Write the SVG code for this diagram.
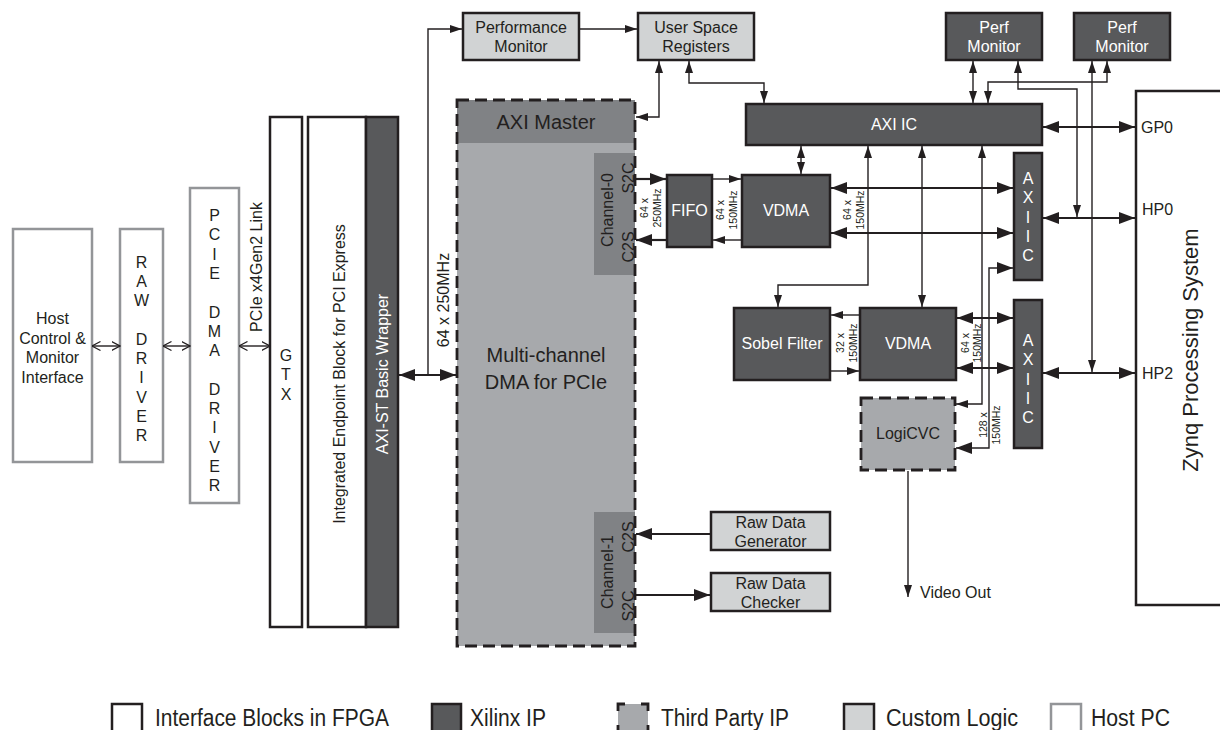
<svg xmlns="http://www.w3.org/2000/svg" width="1220" height="730" viewBox="0 0 1220 730">
<defs>
<style>
text{font-family:"Liberation Sans",Arial,Helvetica,sans-serif;fill:#231f20}
.m{text-anchor:middle}
.f16{font-size:16px}
.f20{font-size:20px}
.sm{font-size:10.5px}
.w{fill:#fff}
.host{fill:#fff;stroke:#939598;stroke-width:2.5}
.ifc{fill:#fff;stroke:#231f20;stroke-width:2.5}
.xil{fill:#58595b;stroke:#231f20;stroke-width:2.5}
.cus{fill:#d1d3d4;stroke:#231f20;stroke-width:2.5}
.tpf{fill:#a7a9ac}
.tpo{fill:none;stroke:#231f20;stroke-width:2.8;stroke-dasharray:12 6}
.sub{fill:#808285}
.c{fill:none;stroke:#231f20}
.k{stroke-width:2.2}
.n{stroke-width:1.4}
.leg{font-size:23px}
</style>
<marker id="ab" viewBox="0 0 16 12" refX="16" refY="6" markerWidth="16" markerHeight="12" markerUnits="userSpaceOnUse" orient="auto-start-reverse"><path d="M0,0 L16,6 L0,12 z" fill="#231f20"/></marker>
<marker id="as" viewBox="0 0 12 8" refX="12" refY="4" markerWidth="12" markerHeight="8" markerUnits="userSpaceOnUse" orient="auto-start-reverse"><path d="M0,0 L12,4 L0,8 z" fill="#231f20"/></marker>
<marker id="ao" viewBox="0 0 9 10" refX="8.5" refY="5" markerWidth="9" markerHeight="10" markerUnits="userSpaceOnUse" orient="auto-start-reverse"><path d="M0,0.5 L8.5,5 L0,9.5" fill="none" stroke="#231f20" stroke-width="1.2"/></marker>
</defs>
<rect width="1220" height="730" fill="#fff"/>

<g id="host">
<rect class="host" x="13" y="229" width="79" height="233"/>
<text class="f16 m"><tspan x="52.5" y="324">Host</tspan><tspan x="52.5" y="343.5">Control &amp;</tspan><tspan x="52.5" y="363">Monitor</tspan><tspan x="52.5" y="382.5">Interface</tspan></text>
</g>
<g id="raw-driver">
<rect class="host" x="120" y="229" width="43" height="233"/>
<text class="f16 m"><tspan x="141.5" y="267.5">R</tspan><tspan x="141.5" y="286.8">A</tspan><tspan x="141.5" y="306.1">W</tspan><tspan x="141.5" y="344.7">D</tspan><tspan x="141.5" y="364">R</tspan><tspan x="141.5" y="383.3">I</tspan><tspan x="141.5" y="402.6">V</tspan><tspan x="141.5" y="421.9">E</tspan><tspan x="141.5" y="441.2">R</tspan></text>
</g>
<g id="pcie-dma-driver">
<rect class="host" x="190" y="188" width="49" height="315"/>
<text class="f16 m"><tspan x="214.5" y="221">P</tspan><tspan x="214.5" y="240.3">C</tspan><tspan x="214.5" y="259.6">I</tspan><tspan x="214.5" y="278.9">E</tspan><tspan x="214.5" y="317.5">D</tspan><tspan x="214.5" y="336.8">M</tspan><tspan x="214.5" y="356.1">A</tspan><tspan x="214.5" y="394.7">D</tspan><tspan x="214.5" y="414">R</tspan><tspan x="214.5" y="433.3">I</tspan><tspan x="214.5" y="452.6">V</tspan><tspan x="214.5" y="471.9">E</tspan><tspan x="214.5" y="491.2">R</tspan></text>
</g>
<g id="gtx">
<rect class="ifc" x="270" y="117" width="32" height="510"/>
<text class="f16 m"><tspan x="286" y="361">G</tspan><tspan x="286" y="380.3">T</tspan><tspan x="286" y="399.6">X</tspan></text>
</g>
<g id="endpoint">
<rect class="ifc" x="308" y="117" width="58" height="510"/>
<text class="f16 m" transform="translate(345,374) rotate(-90)">Integrated Endpoint Block for PCI Express</text>
</g>
<g id="wrapper">
<rect class="xil" x="366" y="117" width="32" height="510"/>
<text class="f16 m w" transform="translate(388,374) rotate(-90)">AXI-ST Basic Wrapper</text>
</g>

<g id="dma">
<rect class="tpf" x="457" y="100" width="178" height="546"/>
<rect class="sub" x="457" y="100" width="178" height="43"/>
<rect class="sub" x="594" y="153" width="41" height="122"/>
<rect class="sub" x="594" y="512" width="41" height="121"/>
<rect class="tpo" x="457" y="100" width="178" height="546"/>
<text class="f20 m" x="546" y="129">AXI Master</text>
<text class="f20 m"><tspan x="546" y="362">Multi-channel</tspan><tspan x="546" y="389">DMA for PCIe</tspan></text>
<text class="f16 m" transform="translate(613,210) rotate(-90)">Channel-0</text>
<text class="f16 m" transform="translate(634,178) rotate(-90)">S2C</text>
<text class="f16 m" transform="translate(634,247) rotate(-90)">C2S</text>
<text class="f16 m" transform="translate(613,572) rotate(-90)">Channel-1</text>
<text class="f16 m" transform="translate(634,537) rotate(-90)">C2S</text>
<text class="f16 m" transform="translate(634,606) rotate(-90)">S2C</text>
</g>

<g id="perf-monitor">
<rect class="cus" x="463" y="13" width="116" height="47"/>
<text class="f16 m"><tspan x="521" y="33">Performance</tspan><tspan x="521" y="52">Monitor</tspan></text>
</g>
<g id="user-space-registers">
<rect class="cus" x="638" y="13" width="116" height="47"/>
<text class="f16 m"><tspan x="696" y="33">User Space</tspan><tspan x="696" y="52">Registers</tspan></text>
</g>
<g id="perf1">
<rect class="xil" x="946" y="13" width="96" height="47"/>
<text class="f16 m w"><tspan x="994" y="33">Perf</tspan><tspan x="994" y="52">Monitor</tspan></text>
</g>
<g id="perf2">
<rect class="xil" x="1074" y="13" width="96" height="47"/>
<text class="f16 m w"><tspan x="1122" y="33">Perf</tspan><tspan x="1122" y="52">Monitor</tspan></text>
</g>
<g id="axi-ic">
<rect class="xil" x="746" y="104" width="296" height="41"/>
<text class="f16 m w" x="894" y="130">AXI IC</text>
</g>
<g id="fifo">
<rect class="xil" x="667" y="175" width="45" height="72"/>
<text class="f16 m w" x="689.5" y="216">FIFO</text>
</g>
<g id="vdma1">
<rect class="xil" x="742" y="175" width="88" height="72"/>
<text class="f16 m w" x="786" y="216">VDMA</text>
</g>
<g id="axiic1">
<rect class="xil" x="1014" y="153" width="28" height="127"/>
<text class="f16 m w"><tspan x="1028" y="184">A</tspan><tspan x="1028" y="203.3">X</tspan><tspan x="1028" y="222.6">I</tspan><tspan x="1028" y="241.9">I</tspan><tspan x="1028" y="261.2">C</tspan></text>
</g>
<g id="sobel">
<rect class="xil" x="734" y="308" width="96" height="72"/>
<text class="f16 m w" x="782" y="349">Sobel Filter</text>
</g>
<g id="vdma2">
<rect class="xil" x="860" y="308" width="96" height="72"/>
<text class="f16 m w" x="908" y="349">VDMA</text>
</g>
<g id="axiic2">
<rect class="xil" x="1014" y="300" width="28" height="148"/>
<text class="f16 m w"><tspan x="1028" y="346">A</tspan><tspan x="1028" y="365.3">X</tspan><tspan x="1028" y="384.6">I</tspan><tspan x="1028" y="403.9">I</tspan><tspan x="1028" y="423.2">C</tspan></text>
</g>
<g id="logicvc">
<rect class="tpf" x="861" y="398" width="94" height="72"/>
<rect class="tpo" x="861" y="398" width="94" height="72"/>
<text class="f16 m" x="908" y="439">LogiCVC</text>
</g>
<g id="raw-gen">
<rect class="cus" x="711" y="512" width="119" height="38"/>
<text class="f16 m"><tspan x="770.5" y="528">Raw Data</tspan><tspan x="770.5" y="547">Generator</tspan></text>
</g>
<g id="raw-chk">
<rect class="cus" x="711" y="573" width="119" height="38"/>
<text class="f16 m"><tspan x="770.5" y="589">Raw Data</tspan><tspan x="770.5" y="608">Checker</tspan></text>
</g>
<g id="zynq">
<path d="M1222,91 H1136 V605 H1222" fill="none" stroke="#231f20" stroke-width="2.5"/>
<text class="m" style="font-size:22px" transform="translate(1198,350) rotate(-90)">Zynq Processing System</text>
<text class="f16" x="1141" y="133">GP0</text>
<text class="f16" x="1142" y="215">HP0</text>
<text class="f16" x="1142" y="379">HP2</text>
</g>

<g id="connectors">
<path class="c n" d="M92,346 H120" marker-start="url(#ao)" marker-end="url(#ao)"/>
<path class="c n" d="M163,346 H190" marker-start="url(#ao)" marker-end="url(#ao)"/>
<path class="c n" d="M239,346 H270" marker-start="url(#ao)" marker-end="url(#ao)"/>
<path class="c k" d="M399,375 H456" marker-start="url(#ab)" marker-end="url(#ab)"/>
<path class="c n" d="M428,375 V29 H462" marker-end="url(#as)"/>
<path class="c n" d="M580,29 H637" marker-end="url(#as)"/>
<path class="c n" d="M659,61 V117 H636" marker-start="url(#as)" marker-end="url(#as)"/>
<path class="c n" d="M689,61 V83 H764 V103" marker-start="url(#as)" marker-end="url(#as)"/>
<path class="c k" d="M636,179 H666" marker-end="url(#ab)"/>
<path class="c n" d="M713,179 H741" marker-end="url(#as)"/>
<path class="c n" d="M741,240 H713" marker-end="url(#as)"/>
<path class="c k" d="M666,240 H636" marker-end="url(#ab)"/>
<path class="c n" d="M801,146 V174" marker-start="url(#as)" marker-end="url(#as)"/>
<path class="c k" d="M831,188 H1013" marker-start="url(#ab)" marker-end="url(#ab)"/>
<path class="c k" d="M831,233 H1013" marker-start="url(#ab)" marker-end="url(#ab)"/>
<path class="c n" d="M868,146 V285 H778 V307" marker-start="url(#as)" marker-end="url(#as)"/>
<path class="c n" d="M922,146 V307" marker-start="url(#as)" marker-end="url(#as)"/>
<path class="c n" d="M982,146 V404 H956" marker-start="url(#as)" marker-end="url(#as)"/>
<path class="c n" d="M1013,268 H989 V448 H956" marker-start="url(#ab)" marker-end="url(#ab)"/>
<path class="c n" d="M859,315 H831" marker-end="url(#as)"/>
<path class="c n" d="M831,371 H859" marker-end="url(#as)"/>
<path class="c k" d="M957,318 H1013" marker-start="url(#ab)" marker-end="url(#ab)"/>
<path class="c k" d="M957,368 H1013" marker-start="url(#ab)" marker-end="url(#ab)"/>
<path class="c k" d="M1043,127 H1135" marker-start="url(#ab)" marker-end="url(#ab)"/>
<path class="c k" d="M1043,218 H1135" marker-start="url(#ab)" marker-end="url(#ab)"/>
<path class="c k" d="M1043,373 H1135" marker-start="url(#ab)" marker-end="url(#ab)"/>
<path class="c n" d="M973,61 V103" marker-start="url(#as)" marker-end="url(#as)"/>
<path class="c n" d="M1107,61 V82 H988 V103" marker-start="url(#as)" marker-end="url(#as)"/>
<path class="c n" d="M1018,61 V89 H1077 V217" marker-start="url(#as)" marker-end="url(#as)"/>
<path class="c n" d="M1092,61 V372" marker-start="url(#as)" marker-end="url(#as)"/>
<path class="c n" d="M908,471 V597" marker-end="url(#as)"/>
<path class="c k" d="M710,534 H636" marker-end="url(#ab)"/>
<path class="c k" d="M636,595 H710" marker-end="url(#ab)"/>
</g>

<g id="labels">
<text class="f16 m" transform="translate(262,267) rotate(-90)">PCIe x4Gen2 Link</text>
<text class="f16 m" transform="translate(449,300) rotate(-90)">64 x 250MHz</text>
<text class="sm m" transform="translate(648,208) rotate(-90)">64 x</text>
<text class="sm m" transform="translate(661,208) rotate(-90)">250MHz</text>
<text class="sm m" transform="translate(724,210) rotate(-90)">64 x</text>
<text class="sm m" transform="translate(737,210) rotate(-90)">150MHz</text>
<text class="sm m" transform="translate(851,210) rotate(-90)">64 x</text>
<text class="sm m" transform="translate(864,210) rotate(-90)">150MHz</text>
<text class="sm m" transform="translate(844,343) rotate(-90)">32 x</text>
<text class="sm m" transform="translate(857,343) rotate(-90)">150MHz</text>
<text class="sm m" transform="translate(969,343) rotate(-90)">64 x</text>
<text class="sm m" transform="translate(981,343) rotate(-90)">150MHz</text>
<text class="sm m" transform="translate(987,425) rotate(-90)">128 x</text>
<text class="sm m" transform="translate(1000,425) rotate(-90)">150MHz</text>
<text class="f16" x="920" y="598">Video Out</text>
</g>

<g id="legend">
<rect class="ifc" x="112" y="704" width="30" height="34"/>
<text class="leg" x="155" y="726" textLength="234" lengthAdjust="spacingAndGlyphs">Interface Blocks in FPGA</text>
<rect class="xil" x="432" y="704" width="29" height="34"/>
<text class="leg" x="470" y="726" textLength="76" lengthAdjust="spacingAndGlyphs">Xilinx IP</text>
<rect class="tpf" x="618" y="704" width="30" height="34"/>
<path d="M618,711 V704 H625 M641,704 H648 V711 M618,725 V734 M648,725 V734" fill="none" stroke="#231f20" stroke-width="2.8"/>
<text class="leg" x="661" y="726" textLength="128" lengthAdjust="spacingAndGlyphs">Third Party IP</text>
<rect class="cus" x="844" y="704" width="30" height="34"/>
<text class="leg" x="886" y="726" textLength="132" lengthAdjust="spacingAndGlyphs">Custom Logic</text>
<rect class="host" x="1051" y="704" width="30" height="34"/>
<text class="leg" x="1091" y="726" textLength="79" lengthAdjust="spacingAndGlyphs">Host PC</text>
</g>
</svg>
